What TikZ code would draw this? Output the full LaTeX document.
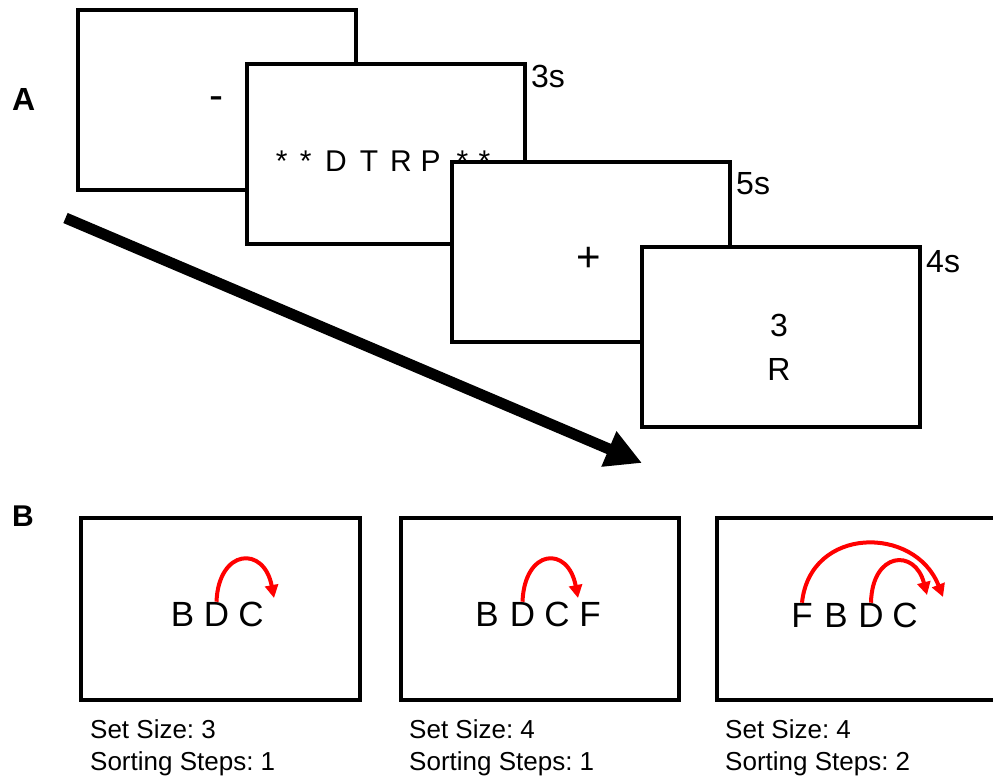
\documentclass[tikz,border=0pt]{standalone}
\usepackage{fontspec}
\setmainfont{Liberation Sans}
\usetikzlibrary{arrows.meta}
\frenchspacing
\begin{document}
\begin{tikzpicture}[x=1pt,y=-1pt,
  frame/.style={draw=black, fill=white, line width=4pt, inner sep=0pt, outer sep=0pt,
    minimum width=278pt, minimum height=180pt, anchor=north west},
  bframe/.style={frame, minimum width=278.5pt, minimum height=182pt},
  lbl/.style={inner sep=0pt, anchor=base west, font=\fontsize{32}{38}\selectfont},
  glyph/.style={inner sep=0pt, anchor=base, font=\fontsize{32}{38}\selectfont},
  cue/.style={inner sep=0pt, anchor=base, font=\fontsize{30}{36}\selectfont},
  symb/.style={inner sep=0pt, anchor=base, font=\fontsize{42}{50}\selectfont},
  letter/.style={inner sep=0pt, anchor=base, font=\fontsize{35}{42}\selectfont},
  caption/.style={inner sep=0pt, anchor=base west, font=\fontsize{26}{32}\selectfont},
  panel/.style={inner sep=0pt, anchor=base west, font=\bfseries\fontsize{32}{38}\selectfont},
  sortarc/.style={draw=red, line width=4pt, -{Triangle[length=13pt,width=13pt]}},
  timeline/.style={line width=11pt, -{Triangle[length=36pt,width=36pt]}}
]
\clip (0,0) rectangle (993,777);
\fill[white] (0,0) rectangle (993,777);

% Panel A
\node[panel] (pa) at (12,110) {A};
\node[frame] (a1) at (78,9.5) {};
\node[symb] (a1t) at (216,109) {-};
\node[frame] (a2) at (247,63.5) {};
\node[cue] (c1) at (281.7,171) {*};
\node[cue] (c2) at (305.8,171) {*};
\node[cue] (c3) at (336,171) {D};
\node[cue] (c4) at (369,171) {T};
\node[cue] (c5) at (401,171) {R};
\node[cue] (c6) at (430.5,171) {P};
\node[cue] (c7) at (462.5,171) {*};
\node[cue] (c8) at (484.5,171) {*};
\node[lbl] (l3s) at (531,87) {3s};
\node[frame] (a3) at (452,162) {};
\node[symb] (a3t) at (589,271) {+};
\node[lbl] (l5s) at (736,194) {5s};
\node[frame] (a4) at (642,247) {};
\node[glyph] (a4n) at (779,336) {3};
\node[glyph] (a4r) at (779,380) {R};
\node[lbl] (l4s) at (926,272) {4s};

\coordinate (tstart) at (65.5,218);
\coordinate (tend) at (642,463);
\draw[timeline] (tstart) -- (tend);

% Panel B
\node[panel, font=\bfseries\fontsize{30}{36}\selectfont] (pb) at (12,526) {B};

\node[bframe] (b1) at (81,518) {};
\node[letter] (b1b) at (182.5,626) {B};
\node[letter] (b1d) at (216.5,626) {D};
\node[letter] (b1c) at (251,626) {C};
\coordinate (b1tip) at (274,598);
\draw[sortarc] (b1d.north) .. controls +(2,-53) and +(-10,-53) .. (b1tip);
\node[caption] (b1s) at (90,738) {Set Size: 3};
\node[caption] (b1k) at (90,770) {Sorting Steps: 1};

\node[bframe] (b2) at (400.5,518) {};
\node[letter] (b2b) at (487,626) {B};
\node[letter] (b2d) at (522.5,626) {D};
\node[letter] (b2c) at (557,626) {C};
\node[letter] (b2f) at (590,626) {F};
\coordinate (b2tip) at (578,598);
\draw[sortarc] (b2d.north) .. controls +(2,-53) and +(-10,-53) .. (b2tip);
\node[caption] (b2s) at (409,738) {Set Size: 4};
\node[caption] (b2k) at (409,770) {Sorting Steps: 1};

\node[bframe] (b3) at (717,518) {};
\node[letter] (b3f) at (802,627) {F};
\node[letter] (b3b) at (836,627) {B};
\node[letter] (b3d) at (871,627) {D};
\node[letter] (b3c) at (905,627) {C};
\coordinate (b3tipa) at (943,597);
\coordinate (b3tipb) at (927,595);
\draw[sortarc] (b3f.north) .. controls +(8,-77) and +(-28,-72) .. (b3tipa);
\draw[sortarc] (b3d.north) .. controls +(1,-51) and +(-12,-47) .. (b3tipb);
\node[caption] (b3s) at (725,738) {Set Size: 4};
\node[caption] (b3k) at (725,770) {Sorting Steps: 2};
\end{tikzpicture}
\end{document}
